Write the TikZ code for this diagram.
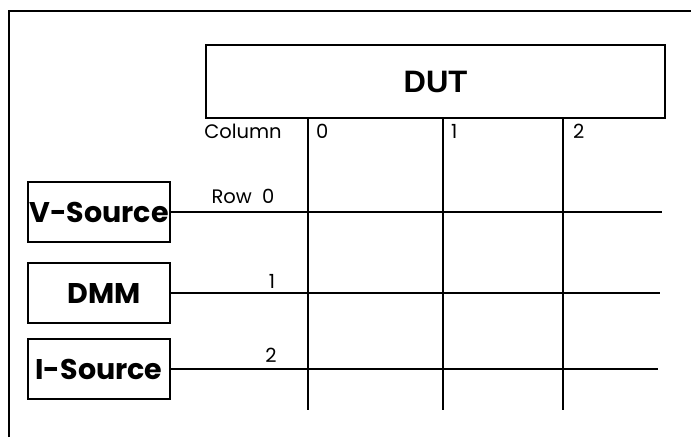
\documentclass[tikz,border=0pt]{standalone}
\usepackage{fontspec}
\setmainfont{Poppins}
\newfontfamily\dutfont{Liberation Sans}
\begin{document}
\begin{tikzpicture}[x=1pt,y=-1pt,
  wire/.style={line width=1.3pt,black},
  srcbox/.style={draw,line width=1.3pt,minimum width=142pt,minimum height=60pt,inner sep=0pt,font=\bfseries\fontsize{28.5}{28.5}\selectfont},
  small/.style={font=\fontsize{19.5}{19.5}\selectfont,inner sep=0pt}]
\useasboundingbox (0,0) rectangle (691,437);
% outer frame (left and top visible)
\coordinate (fbl) at (9,437);
\coordinate (ftl) at (9,11);
\coordinate (ftr) at (691,11);
\draw[wire] (fbl) -- (ftl) -- (ftr);
% DUT
\node[draw,line width=1.3pt,minimum width=459pt,minimum height=73pt,inner sep=0pt,
      font=\dutfont\bfseries\fontsize{31}{31}\selectfont] (dut) at (435.5,81.5) {DUT};
% sources
\node[srcbox] (vs) at (99,212) {V-Source};
\node[srcbox] (dmm) at (99,293) {\hspace*{10pt}DMM};
\node[srcbox] (is) at (99,369) {I-Source};
% row ends
\coordinate (r0) at (662,212);
\coordinate (r1) at (660,293);
\coordinate (r2) at (658,369);
\draw[wire] (vs.east) -- (r0);
\draw[wire] (dmm.east) -- (r1);
\draw[wire] (is.east) -- (r2);
% columns
\coordinate (c0) at (308,410);
\coordinate (c1) at (443,410);
\coordinate (c2) at (563,410);
\draw[wire] (dut.south -| c0) -- (c0);
\draw[wire] (dut.south -| c1) -- (c1);
\draw[wire] (dut.south -| c2) -- (c2);
% labels
\node[small] (lcol) at (243,131) {Column};
\node[small,anchor=west] (l0) at (316,131) {0};
\node[small,anchor=west] (l1) at (451,131) {1};
\node[small,anchor=west] (l2) at (573,131) {2};
\node[small] (lrow) at (243,196) {Row\ \ 0};
\node[small] (lr1) at (272,281) {1};
\node[small] (lr2) at (271,355) {2};
\end{tikzpicture}
\end{document}
